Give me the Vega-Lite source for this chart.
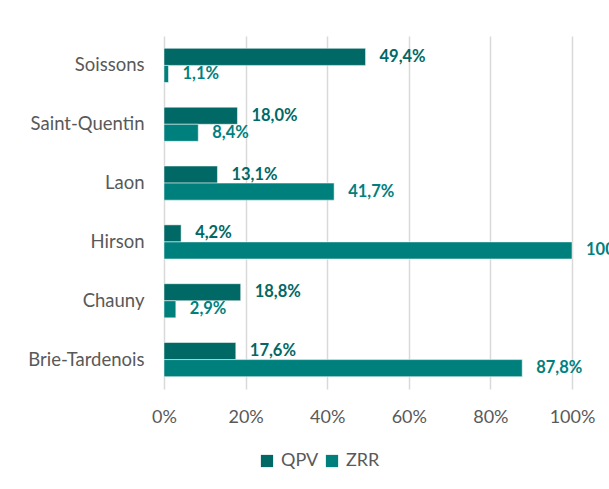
{
  "$schema": "https://vega.github.io/schema/vega-lite/v6.json",
  "width": 408,
  "height": 353,
  "autosize": {"type": "none"},
  "padding": {"left": 164, "top": 36, "right": 37, "bottom": 100},
  "background": "white",
  "config": {
    "locale": {"number": {"decimal": ",", "thousands": " ", "grouping": [3], "currency": ["", " €"]}},
    "view": {"stroke": null},
    "font": "Lato"
  },
  "data": {
    "values": [
      {"commune": "Soissons", "serie": "QPV", "value": 0.494},
      {"commune": "Soissons", "serie": "ZRR", "value": 0.011},
      {"commune": "Saint-Quentin", "serie": "QPV", "value": 0.180},
      {"commune": "Saint-Quentin", "serie": "ZRR", "value": 0.084},
      {"commune": "Laon", "serie": "QPV", "value": 0.131},
      {"commune": "Laon", "serie": "ZRR", "value": 0.417},
      {"commune": "Hirson", "serie": "QPV", "value": 0.042},
      {"commune": "Hirson", "serie": "ZRR", "value": 1.000},
      {"commune": "Chauny", "serie": "QPV", "value": 0.188},
      {"commune": "Chauny", "serie": "ZRR", "value": 0.029},
      {"commune": "Brie-Tardenois", "serie": "QPV", "value": 0.176},
      {"commune": "Brie-Tardenois", "serie": "ZRR", "value": 0.878}
    ]
  },
  "encoding": {
    "y": {
      "field": "commune",
      "type": "nominal",
      "sort": ["Soissons", "Saint-Quentin", "Laon", "Hirson", "Chauny", "Brie-Tardenois"],
      "scale": {"paddingInner": 0.42, "paddingOuter": 0.21},
      "axis": {
        "title": null,
        "ticks": false,
        "domain": false,
        "labelPadding": 20,
        "labelFontSize": 18.5,
        "labelColor": "#595959",
        "labelFont": "Lato"
      }
    },
    "yOffset": {"field": "serie", "type": "nominal", "sort": ["QPV", "ZRR"]},
    "x": {
      "field": "value",
      "type": "quantitative",
      "scale": {"domain": [0, 1]},
      "axis": {
        "title": null,
        "format": ".0%",
        "values": [0, 0.2, 0.4, 0.6, 0.8, 1],
        "labelOverlap": false,
        "labelFlush": false,
        "ticks": false,
        "domain": false,
        "grid": true,
        "gridColor": "#d9d9d9",
        "gridWidth": 1.5,
        "labelPadding": 19,
        "labelFontSize": 18,
        "labelColor": "#595959",
        "labelFont": "Lato"
      }
    }
  },
  "layer": [
    {
      "mark": {"type": "bar", "stroke": "white", "strokeWidth": 0.5},
      "encoding": {
        "color": {
          "field": "serie",
          "type": "nominal",
          "scale": {"domain": ["QPV", "ZRR"], "range": ["#006865", "#00807d"]},
          "legend": {
            "title": null,
            "orient": "none",
            "legendX": 94,
            "legendY": 416,
            "direction": "horizontal",
            "symbolType": "square",
            "symbolSize": 150,
            "symbolStrokeWidth": 0,
            "labelFontSize": 18,
            "labelColor": "#595959",
            "labelFont": "Lato",
            "labelOffset": 5,
            "columnPadding": 4
          }
        }
      }
    },
    {
      "mark": {"type": "text", "align": "left", "baseline": "middle", "dx": 14, "fontWeight": "bold", "fontSize": 16.5, "font": "Lato"},
      "encoding": {
        "text": {"field": "value", "type": "quantitative", "format": ".1%"},
        "color": {
          "field": "serie",
          "type": "nominal",
          "scale": {"domain": ["QPV", "ZRR"], "range": ["#006865", "#00807d"]},
          "legend": null
        }
      }
    }
  ]
}
